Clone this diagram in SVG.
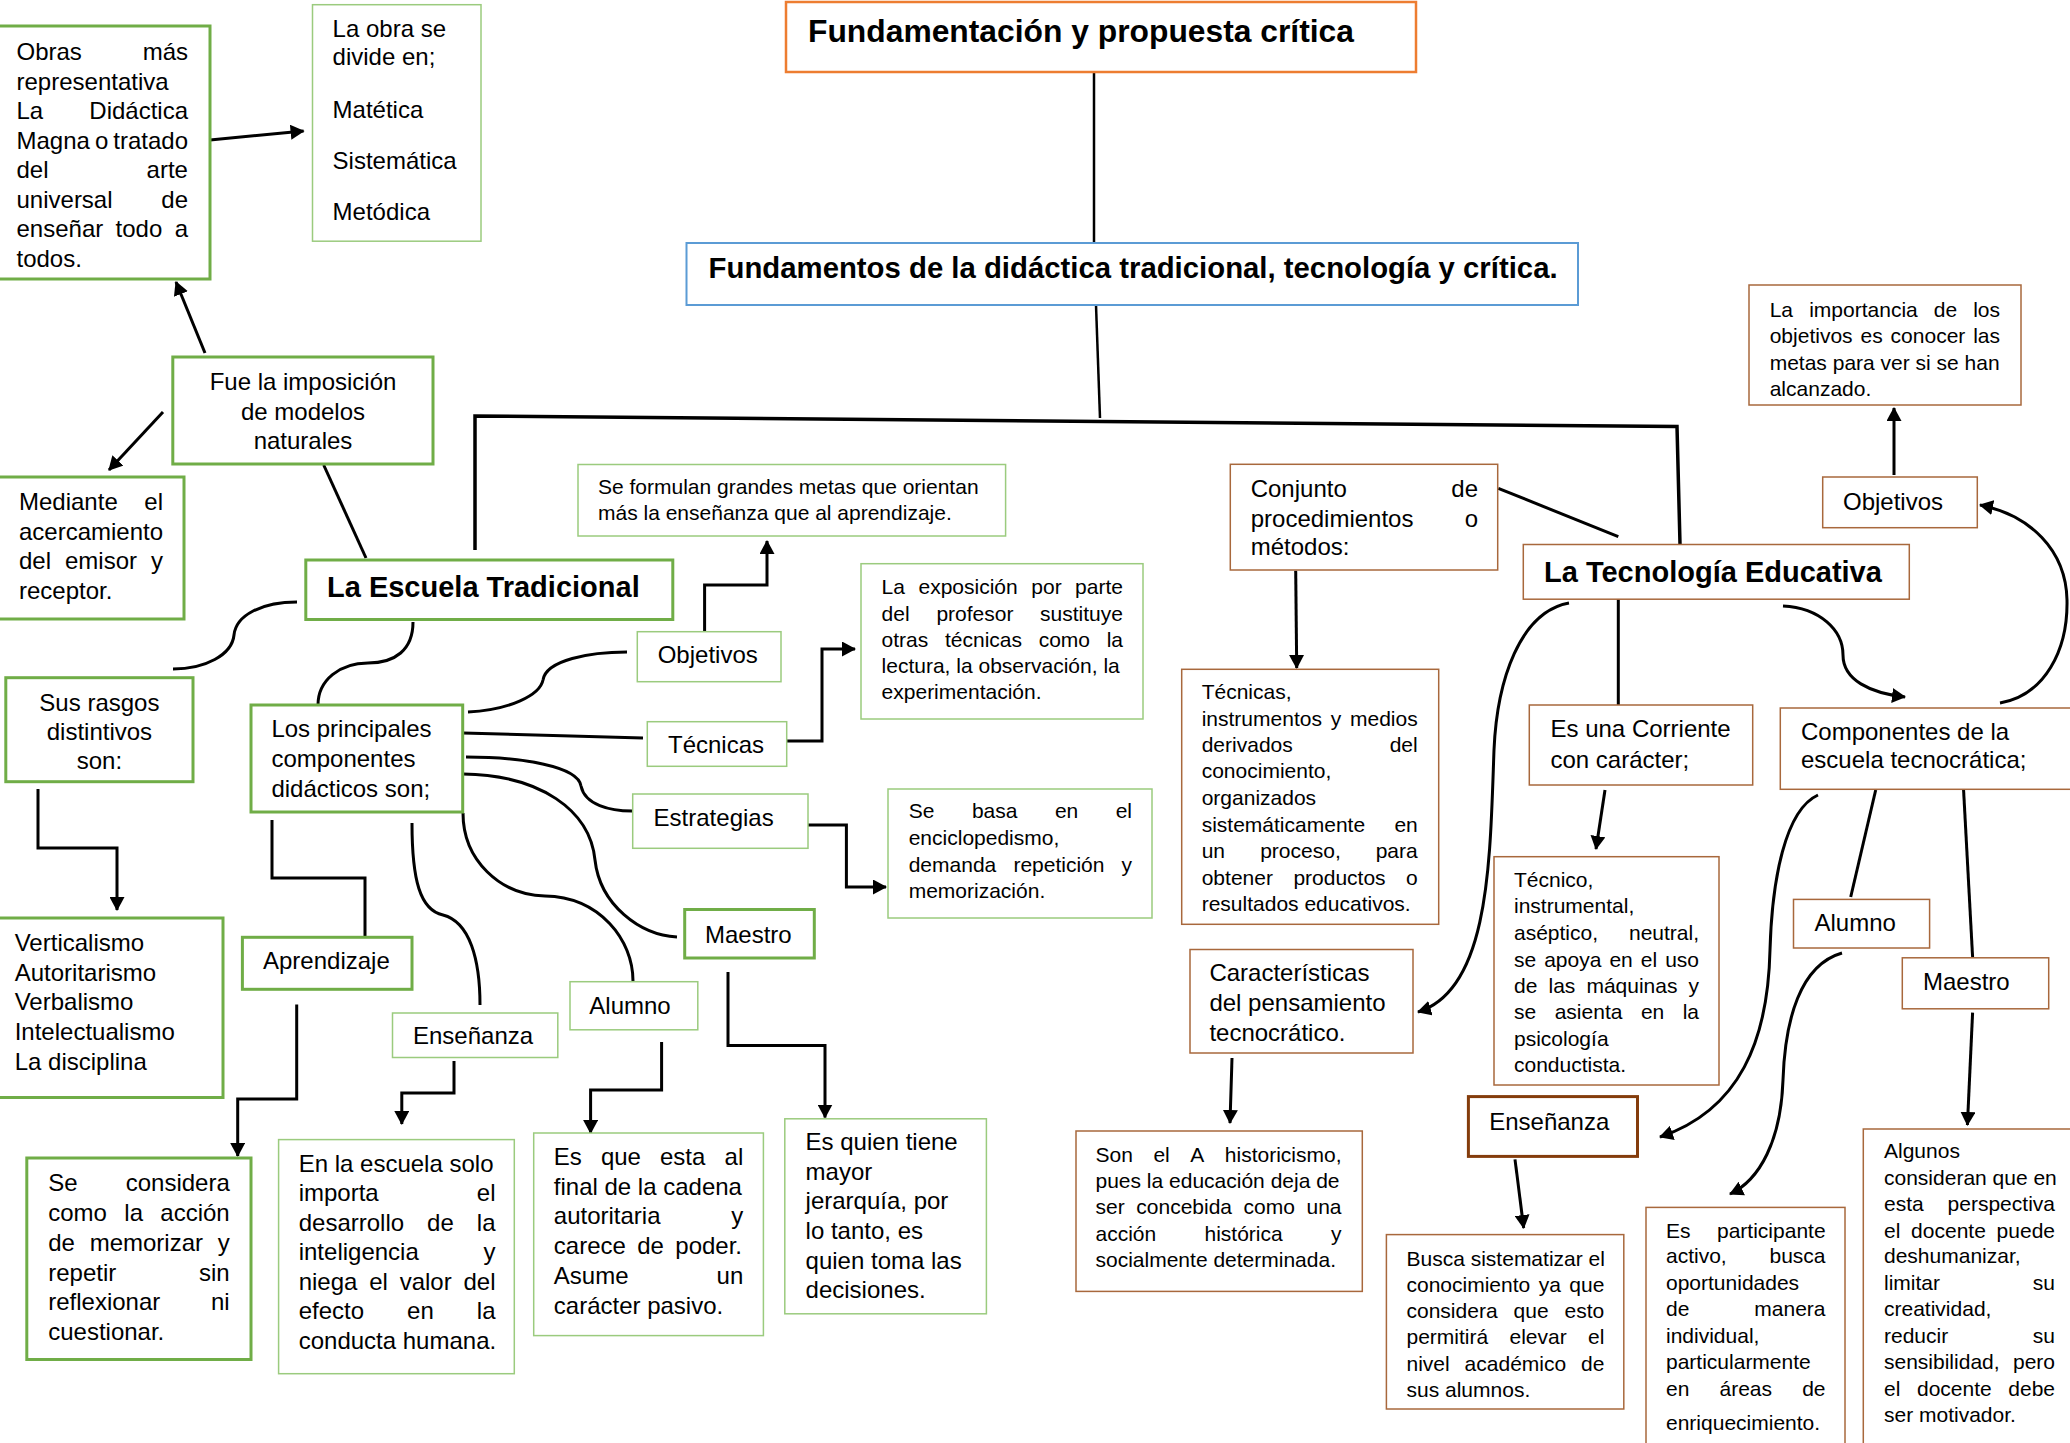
<svg xmlns="http://www.w3.org/2000/svg" width="2070" height="1443" viewBox="0 0 2070 1443">
<style>
text{font-family:'Liberation Sans',Arial,sans-serif;fill:#000}
.t24{font-size:24px}
.t21{font-size:21px}
.b29{font-size:29px;font-weight:bold}
.g3{fill:#fff;stroke:#70AD47;stroke-width:3}
.g1{fill:#fff;stroke:#9BCB7E;stroke-width:1.5}
.br{fill:#fff;stroke:#A8683C;stroke-width:1.5}
.br3{fill:#fff;stroke:#843C0C;stroke-width:3}
#connectors path{fill:none;stroke:#000;stroke-width:3}
#connectors .a{marker-end:url(#ah)}
</style>
<defs>
<marker id="ah" markerUnits="userSpaceOnUse" viewBox="0 0 14 15" markerWidth="14" markerHeight="15" refX="13" refY="7.5" orient="auto">
<path d="M0,0 L14,7.5 L0,15 z" fill="#000"/>
</marker>
</defs>
<rect width="2070" height="1443" fill="#fff"/>

<g id="connectors">
<path d="M1094,72 L1094,243" style="stroke-width:2.5"/>
<path d="M1096,305 L1100,418" style="stroke-width:2.5"/>
<path d="M475,550 L475,416 L1677,426.5 L1680,544" style="stroke-width:3.5"/>
<path d="M323.7,465 L366,558"/>
<path class="a" d="M205,353 L176,282"/>
<path class="a" d="M163,412 L109,470"/>
<path class="a" d="M210,140 L303.6,131"/>
<path d="M297,602 C262,602 236,615 234,635 C232,655 205,669 173,669"/>
<path d="M413,622 C413,650 395,663 368,663 C340,663 318,680 318,705"/>
<path class="a" d="M38,789 L38,848 L117,848 L117,910"/>
<path d="M468,712 C510,710 540,695 543,680 C546,660 590,652 627,652"/>
<path d="M463,733 L643,738"/>
<path d="M466,757 C520,757 578,766 581,786 C585,805 610,811 632,811"/>
<path d="M463,774 C540,775 590,810 595,860 C600,905 640,935 677,937"/>
<path d="M463,813 C463,860 500,895 545,896 C600,897 633,940 633,981"/>
<path d="M412,823 C412,880 420,910 443,915 C470,922 480,960 480,1005"/>
<path d="M272,820 L272,878 L365,878 L365,937"/>
<path class="a" d="M704.6,631 L704.6,585 L767,585 L767,541"/>
<path class="a" d="M787,741 L822,741 L822,649 L855,649"/>
<path class="a" d="M808,825 L846.4,825 L846.4,887 L886,887"/>
<path class="a" d="M296.7,1004.6 L296.7,1099 L237.7,1099 L237.7,1156"/>
<path class="a" d="M454,1061 L454,1093 L401.8,1093 L401.8,1124"/>
<path class="a" d="M661.6,1042 L661.6,1090 L590.6,1090 L590.6,1133"/>
<path class="a" d="M728,972 L728,1045.4 L825,1045.4 L825,1117.5"/>
<path d="M1498.3,488.3 L1618.3,536.7"/>
<path class="a" d="M1295.7,570.7 L1296.7,668"/>
<path d="M1618.3,599 L1618.3,705"/>
<path class="a" d="M1605,790 L1596,849"/>
<path class="a" d="M1569,603 C1520,612 1497,680 1494,750 C1490,860 1490,990 1418,1012"/>
<path class="a" d="M1783,606 C1820,608 1843,630 1843,655 C1843,680 1870,693 1905,697"/>
<path class="a" d="M2000,703 C2045,695 2068,650 2067,600 C2066,550 2030,515 1980,505"/>
<path class="a" d="M1818,795 C1785,810 1772,880 1770,950 C1768,1040 1740,1110 1660,1137"/>
<path d="M1875.7,790 L1850.7,897"/>
<path d="M1963.3,785 L1972.6,957"/>
<path class="a" d="M1842,953 C1800,965 1785,1020 1783,1080 C1781,1140 1760,1180 1730,1194"/>
<path class="a" d="M1972.6,1012.6 L1967.4,1125"/>
<path class="a" d="M1232,1058 L1230,1123"/>
<path class="a" d="M1515,1159.4 L1523.7,1228"/>
<path class="a" d="M1894,475 L1894,408"/>
</g>

<g id="n-fundamentacion">
<rect x="786" y="2" width="630" height="70" fill="#fff" stroke="#ED7D31" stroke-width="2.5"/>
<text x="808" y="42" style="font-size:31px;font-weight:bold" textLength="546" lengthAdjust="spacingAndGlyphs">Fundamentación y propuesta crítica</text>
</g>
<g id="n-fundamentos">
<rect x="686.5" y="243" width="891.5" height="62" fill="#fff" stroke="#5B9BD5" stroke-width="2"/>
<text x="708.6" y="278" style="font-size:29px;font-weight:bold" textLength="849" lengthAdjust="spacingAndGlyphs">Fundamentos de la didáctica tradicional, tecnología y crítica.</text>
</g>

<g id="n-obras">
<rect class="g3" x="-3" y="26" width="213" height="253"/>
<text class="t24"><tspan x="16.5" y="60">Obras</tspan><tspan x="142.7" y="60">más</tspan><tspan x="16.5" y="89.5">representativa</tspan><tspan x="16.5" y="119">La</tspan><tspan x="89.3" y="119">Didáctica</tspan><tspan x="16.5" y="148.5">Magna</tspan><tspan x="95" y="148.5">o</tspan><tspan x="113.3" y="148.5">tratado</tspan><tspan x="16.5" y="178">del</tspan><tspan x="146.6" y="178">arte</tspan><tspan x="16.5" y="207.5">universal</tspan><tspan x="161.3" y="207.5">de</tspan><tspan x="16.5" y="237">enseñar</tspan><tspan x="115.6" y="237">todo</tspan><tspan x="174.7" y="237">a</tspan><tspan x="16.5" y="266.5">todos.</tspan></text>
</g>
<g id="n-laobra">
<rect class="g1" x="312.5" y="4.7" width="168.5" height="236.5"/>
<text class="t24"><tspan x="332.6" y="36.7">La obra se</tspan><tspan x="332.6" y="65">divide en;</tspan><tspan x="332.6" y="117.7">Matética</tspan><tspan x="332.6" y="169">Sistemática</tspan><tspan x="332.6" y="220">Metódica</tspan></text>
</g>
<g id="n-fue">
<rect class="g3" x="172.8" y="357" width="260.2" height="107"/>
<text class="t24" text-anchor="middle"><tspan x="303" y="390">Fue la imposición</tspan><tspan x="303" y="419.5">de modelos</tspan><tspan x="303" y="449">naturales</tspan></text>
</g>
<g id="n-mediante">
<rect class="g3" x="-3" y="477" width="187" height="142"/>
<text class="t24"><tspan x="19" y="510">Mediante</tspan><tspan x="144.3" y="510">el</tspan><tspan x="19" y="539.5">acercamiento</tspan><tspan x="19" y="569">del</tspan><tspan x="65" y="569">emisor</tspan><tspan x="151" y="569">y</tspan><tspan x="19" y="599">receptor.</tspan></text>
</g>
<g id="n-escuela">
<rect class="g3" x="305.8" y="560" width="367" height="59.5"/>
<text class="b29" x="327" y="597">La Escuela Tradicional</text>
</g>
<g id="n-rasgos">
<rect class="g3" x="5.8" y="677.7" width="187.2" height="104"/>
<text class="t24" text-anchor="middle"><tspan x="99.4" y="711">Sus rasgos</tspan><tspan x="99.4" y="740">distintivos</tspan><tspan x="99.4" y="769">son:</tspan></text>
</g>
<g id="n-principales">
<rect class="g3" x="251" y="705" width="211.7" height="107"/>
<text class="t24"><tspan x="271.4" y="737">Los principales</tspan><tspan x="271.4" y="767">componentes</tspan><tspan x="271.4" y="797">didácticos son;</tspan></text>
</g>
<g id="n-verticalismo">
<rect class="g3" x="-3" y="918" width="226" height="179.5"/>
<text class="t24"><tspan x="14.7" y="951">Verticalismo</tspan><tspan x="14.7" y="980.5">Autoritarismo</tspan><tspan x="14.7" y="1010">Verbalismo</tspan><tspan x="14.7" y="1039.5">Intelectualismo</tspan><tspan x="14.7" y="1069.5">La disciplina</tspan></text>
</g>
<g id="n-aprendizaje">
<rect class="g3" x="242.4" y="937.3" width="169.6" height="52"/>
<text class="t24" x="263" y="969">Aprendizaje</text>
</g>
<g id="n-seconsidera">
<rect class="g3" x="26.8" y="1158" width="224.2" height="201.5"/>
<text class="t24"><tspan x="48.2" y="1191">Se</tspan><tspan x="125.7" y="1191">considera</tspan><tspan x="48.2" y="1221">como</tspan><tspan x="124.3" y="1221">la</tspan><tspan x="160.3" y="1221">acción</tspan><tspan x="48.2" y="1250.8">de</tspan><tspan x="89.7" y="1250.8">memorizar</tspan><tspan x="217.7" y="1250.8">y</tspan><tspan x="48.2" y="1280.5">repetir</tspan><tspan x="199" y="1280.5">sin</tspan><tspan x="48.2" y="1310">reflexionar</tspan><tspan x="211" y="1310">ni</tspan><tspan x="48.2" y="1339.7">cuestionar.</tspan></text>
</g>
<g id="n-ensenanza-t">
<rect class="g1" x="392.5" y="1013" width="165.3" height="44.5"/>
<text class="t24" x="413" y="1043.7">Enseñanza</text>
</g>
<g id="n-enlaescuela">
<rect class="g1" x="278.6" y="1139.6" width="235.7" height="234.1"/>
<text class="t24"><tspan x="298.7" y="1171.8">En la escuela solo</tspan><tspan x="298.7" y="1201.2">importa</tspan><tspan x="476.8" y="1201.2">el</tspan><tspan x="298.7" y="1230.7">desarrollo</tspan><tspan x="427.1" y="1230.7">de</tspan><tspan x="476.8" y="1230.7">la</tspan><tspan x="298.7" y="1260">inteligencia</tspan><tspan x="483.5" y="1260">y</tspan><tspan x="298.7" y="1289.5">niega</tspan><tspan x="369.2" y="1289.5">el</tspan><tspan x="399.7" y="1289.5">valor</tspan><tspan x="463.5" y="1289.5">del</tspan><tspan x="298.7" y="1319">efecto</tspan><tspan x="407.1" y="1319">en</tspan><tspan x="476.8" y="1319">la</tspan><tspan x="298.7" y="1349">conducta humana.</tspan></text>
</g>
<g id="n-alumno-t">
<rect class="g1" x="570" y="981.7" width="127.8" height="48.1"/>
<text class="t24" x="589.3" y="1013.6">Alumno</text>
</g>
<g id="n-esqueesta">
<rect class="g1" x="533.7" y="1133" width="229.7" height="202.6"/>
<text class="t24"><tspan x="553.8" y="1165">Es</tspan><tspan x="600.9" y="1165">que</tspan><tspan x="660" y="1165">esta</tspan><tspan x="724.6" y="1165">al</tspan><tspan x="553.8" y="1195">final de la cadena</tspan><tspan x="553.8" y="1224.4">autoritaria</tspan><tspan x="731.3" y="1224.4">y</tspan><tspan x="553.8" y="1254">carece</tspan><tspan x="637.2" y="1254">de</tspan><tspan x="675.3" y="1254">poder.</tspan><tspan x="553.8" y="1284.3">Asume</tspan><tspan x="716.6" y="1284.3">un</tspan><tspan x="553.8" y="1313.8">carácter pasivo.</tspan></text>
</g>
<g id="n-maestro-t">
<rect class="g3" x="684.7" y="909.5" width="129.6" height="48.5"/>
<text class="t24" x="705" y="942.6">Maestro</text>
</g>
<g id="n-esquien">
<rect class="g1" x="784.8" y="1118.8" width="201.6" height="195"/>
<text class="t24"><tspan x="805.6" y="1150">Es quien tiene</tspan><tspan x="805.6" y="1179.8">mayor</tspan><tspan x="805.6" y="1209.2">jerarquía, por</tspan><tspan x="805.6" y="1239.3">lo tanto, es</tspan><tspan x="805.6" y="1268.8">quien toma las</tspan><tspan x="805.6" y="1298.2">decisiones.</tspan></text>
</g>
<g id="n-seformulan">
<rect class="g1" x="578" y="464.5" width="427.6" height="71.5"/>
<text class="t21"><tspan x="598" y="494">Se formulan grandes metas que orientan</tspan><tspan x="598" y="520">más la enseñanza que al aprendizaje.</tspan></text>
</g>
<g id="n-objetivos-t">
<rect class="g1" x="637.3" y="631.7" width="143.7" height="50"/>
<text class="t24" x="657.7" y="663">Objetivos</text>
</g>
<g id="n-tecnicas-t">
<rect class="g1" x="647.3" y="721.7" width="139.4" height="44.6"/>
<text class="t24" x="668" y="753">Técnicas</text>
</g>
<g id="n-estrategias">
<rect class="g1" x="632.7" y="794" width="175.3" height="54.3"/>
<text class="t24" x="653.6" y="826">Estrategias</text>
</g>
<g id="n-exposicion">
<rect class="g1" x="861" y="563.7" width="282" height="155.3"/>
<text class="t21"><tspan x="881.6" y="594">La</tspan><tspan x="918.5" y="594">exposición</tspan><tspan x="1031.3" y="594">por</tspan><tspan x="1075.1" y="594">parte</tspan><tspan x="881.6" y="620.7">del</tspan><tspan x="936.4" y="620.7">profesor</tspan><tspan x="1040.1" y="620.7">sustituye</tspan><tspan x="881.6" y="646.7">otras</tspan><tspan x="945" y="646.7">técnicas</tspan><tspan x="1038.7" y="646.7">como</tspan><tspan x="1106.7" y="646.7">la</tspan><tspan x="881.6" y="672.7">lectura, la observación, la</tspan><tspan x="881.6" y="699">experimentación.</tspan></text>
</g>
<g id="n-sebasa">
<rect class="g1" x="888" y="789" width="264" height="129"/>
<text class="t21"><tspan x="908.7" y="818">Se</tspan><tspan x="971.9" y="818">basa</tspan><tspan x="1054.9" y="818">en</tspan><tspan x="1115.7" y="818">el</tspan><tspan x="908.7" y="845">enciclopedismo,</tspan><tspan x="908.7" y="871.7">demanda</tspan><tspan x="1013.4" y="871.7">repetición</tspan><tspan x="1121.5" y="871.7">y</tspan><tspan x="908.7" y="898">memorización.</tspan></text>
</g>

<g id="n-conjunto">
<rect class="br" x="1230.3" y="464.3" width="267.4" height="105.7"/>
<text class="t24"><tspan x="1250.7" y="496.7">Conjunto</tspan><tspan x="1451.3" y="496.7">de</tspan><tspan x="1250.7" y="526.7">procedimientos</tspan><tspan x="1464.7" y="526.7">o</tspan><tspan x="1250.7" y="555">métodos:</tspan></text>
</g>
<g id="n-tecnicas-i">
<rect class="br" x="1181.7" y="669.3" width="257" height="255"/>
<text class="t21"><tspan x="1201.7" y="699.3">Técnicas,</tspan><tspan x="1201.7" y="726">instrumentos</tspan><tspan x="1330.7" y="726">y</tspan><tspan x="1350" y="726">medios</tspan><tspan x="1201.7" y="752.3">derivados</tspan><tspan x="1389.7" y="752.3">del</tspan><tspan x="1201.7" y="778.3">conocimiento,</tspan><tspan x="1201.7" y="805">organizados</tspan><tspan x="1201.7" y="831.7">sistemáticamente</tspan><tspan x="1394.4" y="831.7">en</tspan><tspan x="1201.7" y="858.3">un</tspan><tspan x="1260.2" y="858.3">proceso,</tspan><tspan x="1375.7" y="858.3">para</tspan><tspan x="1201.7" y="885">obtener</tspan><tspan x="1293.4" y="885">productos</tspan><tspan x="1406" y="885">o</tspan><tspan x="1201.7" y="911">resultados educativos.</tspan></text>
</g>
<g id="n-tecnologia">
<rect class="br" x="1523.3" y="544.5" width="386" height="54.7"/>
<text class="b29" x="1544" y="582">La Tecnología Educativa</text>
</g>
<g id="n-corriente">
<rect class="br" x="1529.3" y="705" width="223.4" height="80"/>
<text class="t24"><tspan x="1550.5" y="736.7">Es una Corriente</tspan><tspan x="1550.5" y="767.5">con carácter;</tspan></text>
</g>
<g id="n-componentes">
<rect class="br" x="1780.3" y="708" width="300" height="81.3"/>
<text class="t24"><tspan x="1801" y="740">Componentes de la</tspan><tspan x="1801" y="768.3">escuela tecnocrática;</tspan></text>
</g>
<g id="n-importancia">
<rect class="br" x="1749" y="285" width="272" height="120"/>
<text class="t21"><tspan x="1769.7" y="317">La</tspan><tspan x="1809.2" y="317">importancia</tspan><tspan x="1933.8" y="317">de</tspan><tspan x="1973.2" y="317">los</tspan><tspan x="1769.7" y="343">objetivos</tspan><tspan x="1860.5" y="343">es</tspan><tspan x="1890.6" y="343">conocer</tspan><tspan x="1973.2" y="343">las</tspan><tspan x="1769.7" y="370">metas para ver si se han</tspan><tspan x="1769.7" y="395.5">alcanzado.</tspan></text>
</g>
<g id="n-objetivos-e">
<rect class="br" x="1822.7" y="477" width="154.6" height="50.7"/>
<text class="t24" x="1843" y="510">Objetivos</text>
</g>
<g id="n-caracteristicas">
<rect class="br" x="1190" y="949.5" width="223" height="103.5"/>
<text class="t24"><tspan x="1209.4" y="980.5">Características</tspan><tspan x="1209.4" y="1010.7">del pensamiento</tspan><tspan x="1209.4" y="1041">tecnocrático.</tspan></text>
</g>
<g id="n-sonel">
<rect class="br" x="1076" y="1131" width="286.3" height="160.4"/>
<text class="t21"><tspan x="1095.5" y="1162">Son</tspan><tspan x="1153.4" y="1162">el</tspan><tspan x="1190.2" y="1162">A</tspan><tspan x="1224.8" y="1162">historicismo,</tspan><tspan x="1095.5" y="1188">pues la educación deja de</tspan><tspan x="1095.5" y="1214.2">ser</tspan><tspan x="1136.3" y="1214.2">concebida</tspan><tspan x="1243.6" y="1214.2">como</tspan><tspan x="1306.5" y="1214.2">una</tspan><tspan x="1095.5" y="1240.7">acción</tspan><tspan x="1204.5" y="1240.7">histórica</tspan><tspan x="1331" y="1240.7">y</tspan><tspan x="1095.5" y="1266.5">socialmente determinada.</tspan></text>
</g>
<g id="n-tecnico">
<rect class="br" x="1494" y="856.7" width="225" height="228.3"/>
<text class="t21"><tspan x="1514" y="886.7">Técnico,</tspan><tspan x="1514" y="913.3">instrumental,</tspan><tspan x="1514" y="940">aséptico,</tspan><tspan x="1629" y="940">neutral,</tspan><tspan x="1514" y="966.7">se</tspan><tspan x="1544.2" y="966.7">apoya</tspan><tspan x="1609.4" y="966.7">en</tspan><tspan x="1640.8" y="966.7">el</tspan><tspan x="1665.2" y="966.7">uso</tspan><tspan x="1514" y="993.3">de</tspan><tspan x="1548.5" y="993.3">las</tspan><tspan x="1586.4" y="993.3">máquinas</tspan><tspan x="1688.5" y="993.3">y</tspan><tspan x="1514" y="1019.4">se</tspan><tspan x="1554.7" y="1019.4">asienta</tspan><tspan x="1640.9" y="1019.4">en</tspan><tspan x="1682.7" y="1019.4">la</tspan><tspan x="1514" y="1046">psicología</tspan><tspan x="1514" y="1072.4">conductista.</tspan></text>
</g>
<g id="n-alumno-e">
<rect class="br" x="1793.5" y="899.4" width="136.1" height="48.6"/>
<text class="t24" x="1814.5" y="931.3">Alumno</text>
</g>
<g id="n-maestro-e">
<rect class="br" x="1902.3" y="957.8" width="146.4" height="51"/>
<text class="t24" x="1923" y="990">Maestro</text>
</g>
<g id="n-ensenanza-e">
<rect class="br3" x="1468.4" y="1096.6" width="169.1" height="59.8"/>
<text class="t24" x="1489.2" y="1130">Enseñanza</text>
</g>
<g id="n-busca">
<rect class="br" x="1386.4" y="1234.6" width="237.4" height="174.4"/>
<text class="t21"><tspan x="1406.5" y="1266">Busca sistematizar el</tspan><tspan x="1406.5" y="1291.7">conocimiento</tspan><tspan x="1538.7" y="1291.7">ya</tspan><tspan x="1569.3" y="1291.7">que</tspan><tspan x="1406.5" y="1317.8">considera</tspan><tspan x="1513.6" y="1317.8">que</tspan><tspan x="1564.6" y="1317.8">esto</tspan><tspan x="1406.5" y="1344.3">permitirá</tspan><tspan x="1509.5" y="1344.3">elevar</tspan><tspan x="1588" y="1344.3">el</tspan><tspan x="1406.5" y="1370.8">nivel</tspan><tspan x="1464.6" y="1370.8">académico</tspan><tspan x="1581" y="1370.8">de</tspan><tspan x="1406.5" y="1397.3">sus alumnos.</tspan></text>
</g>
<g id="n-participante">
<rect class="br" x="1646" y="1207.4" width="199" height="250"/>
<text class="t21"><tspan x="1666" y="1237.7">Es</tspan><tspan x="1717" y="1237.7">participante</tspan><tspan x="1666" y="1263.4">activo,</tspan><tspan x="1769.5" y="1263.4">busca</tspan><tspan x="1666" y="1289.9">oportunidades</tspan><tspan x="1666" y="1316.3">de</tspan><tspan x="1754.3" y="1316.3">manera</tspan><tspan x="1666" y="1342.8">individual,</tspan><tspan x="1666" y="1369.3">particularmente</tspan><tspan x="1666" y="1395.8">en</tspan><tspan x="1719.5" y="1395.8">áreas</tspan><tspan x="1802.2" y="1395.8">de</tspan><tspan x="1666" y="1429.8">enriquecimiento.</tspan></text>
</g>
<g id="n-algunos">
<rect class="br" x="1863.3" y="1129" width="220" height="330"/>
<text class="t21"><tspan x="1884" y="1158.2">Algunos</tspan><tspan x="1884" y="1184.7">consideran que en</tspan><tspan x="1884" y="1211.2">esta</tspan><tspan x="1947.6" y="1211.2">perspectiva</tspan><tspan x="1884" y="1237.7">el</tspan><tspan x="1911.1" y="1237.7">docente</tspan><tspan x="1996.6" y="1237.7">puede</tspan><tspan x="1884" y="1263.4">deshumanizar,</tspan><tspan x="1884" y="1289.9">limitar</tspan><tspan x="2032.8" y="1289.9">su</tspan><tspan x="1884" y="1316.3">creatividad,</tspan><tspan x="1884" y="1342.8">reducir</tspan><tspan x="2032.8" y="1342.8">su</tspan><tspan x="1884" y="1369.3">sensibilidad,</tspan><tspan x="2013" y="1369.3">pero</tspan><tspan x="1884" y="1395.8">el</tspan><tspan x="1917" y="1395.8">docente</tspan><tspan x="2008.3" y="1395.8">debe</tspan><tspan x="1884" y="1422.3">ser motivador.</tspan></text>
</g>
</svg>
